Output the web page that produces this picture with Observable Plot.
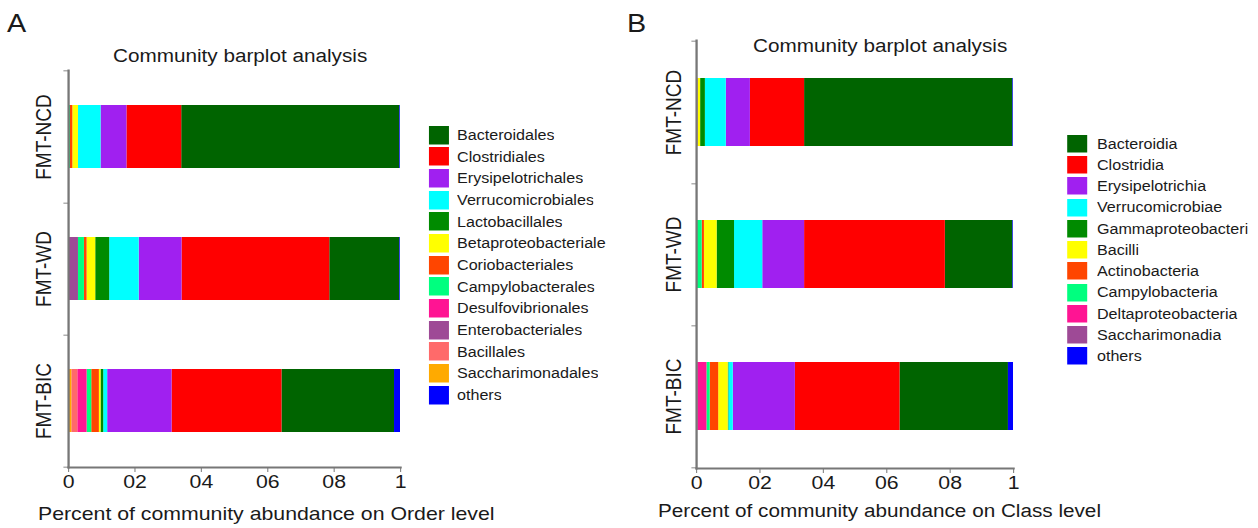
<!DOCTYPE html>
<html><head><meta charset="utf-8">
<script src="https://cdn.jsdelivr.net/npm/d3@7"></script>
<script src="https://cdn.jsdelivr.net/npm/@observablehq/plot@0.6"></script>
<style>
html,body{margin:0;padding:0;background:#fff;overflow:hidden;width:1258px;height:528px}
#root{position:absolute;left:0;top:0;width:1094px;height:528px;transform:scaleX(1.15);transform-origin:0 0;font-family:Arial,"Liberation Sans",sans-serif;color:#1a1a1a}
.abs{position:absolute;white-space:nowrap;line-height:normal}
.lgA-swatches,.lgB-swatches{margin:0;font-size:14px;font-family:Arial,"Liberation Sans",sans-serif;color:#1a1a1a}
.lgA-swatch{height:21.67px;padding-bottom:0 !important}
.lgB-swatch{height:21.25px;padding-bottom:0 !important}
.lgA-swatch > svg{margin-right:7px !important}
.lgB-swatch > svg{margin-right:8.7px !important}
</style></head><body><div id="root"></div>
<script>
// ---------- data ----------
const groups = ["FMT-NCD", "FMT-WD", "FMT-BIC"];
const xTicks = [0, 0.2, 0.4, 0.6, 0.8, 1];
const xTickLabels = ["0", "02", "04", "06", "08", "1"];

const ordersA = ["Bacteroidales", "Clostridiales", "Erysipelotrichales", "Verrucomicrobiales", "Lactobacillales",
  "Betaproteobacteriale", "Coriobacteriales", "Campylobacterales", "Desulfovibrionales", "Enterobacteriales",
  "Bacillales", "Saccharimonadales", "others"];
const colorsA = ["#006400", "#FF0000", "#A020F0", "#00FFFF", "#008B00", "#FFFF00", "#FF4500", "#00FF7F",
  "#FF1493", "#9E4A96", "#FF6A6A", "#FFAA00", "#0000FF"];
const ncdA = [0.657, 0.165, 0.078, 0.068, 0.000, 0.017, 0.007, 0.006, 0.000, 0.000, 0.000, 0.000, 0.002];
const wdA  = [0.211, 0.445, 0.129, 0.089, 0.042, 0.026, 0.008, 0.018, 0.000, 0.030, 0.000, 0.000, 0.002];
const bicA = [0.339, 0.331, 0.194, 0.012, 0.008, 0.005, 0.023, 0.014, 0.028, 0.000, 0.018, 0.010, 0.018];

const classesB = ["Bacteroidia", "Clostridia", "Erysipelotrichia", "Verrucomicrobiae", "Gammaproteobacteri",
  "Bacilli", "Actinobacteria", "Campylobacteria", "Deltaproteobacteria", "Saccharimonadia", "others"];
const colorsB = ["#006400", "#FF0000", "#A020F0", "#00FFFF", "#008B00", "#FFFF00", "#FF4500", "#00FF7F",
  "#FF1493", "#9E4A96", "#0000FF"];
const ncdB = [0.657, 0.171, 0.076, 0.066, 0.015, 0.008, 0.001, 0.000, 0.000, 0.004, 0.002];
const wdB  = [0.213, 0.444, 0.132, 0.089, 0.055, 0.040, 0.007, 0.018, 0.000, 0.000, 0.002];
const bicB = [0.342, 0.330, 0.196, 0.014, 0.002, 0.030, 0.027, 0.010, 0.029, 0.004, 0.016];

// ---------- layout helpers ----------
const S = 1.15; // horizontal stretch of the reference figure
const root = document.getElementById("root");
const FONT = "Arial, 'Liberation Sans', sans-serif";

function addText(txt, xRef, baseline, size) {
  const d = document.createElement("div");
  d.className = "abs";
  d.style.fontSize = size + "px";
  d.style.left = (xRef / S) + "px";
  d.style.top = (baseline - 0.905 * size) + "px";
  d.textContent = txt;
  root.appendChild(d);
}

function place(node, left, top) {
  const w = document.createElement("div");
  w.style.position = "absolute";
  w.style.left = left + "px";
  w.style.top = top + "px";
  w.appendChild(node);
  root.appendChild(w);
}

function panel({taxa, colors, values, width, mL, mR, mT, mB, yLabelDx}) {
  const data = [];
  groups.forEach((g, gi) => taxa.forEach((t, ti) => data.push({group: g, taxon: t, value: values[gi][ti]})));
  const order = taxa.slice(0, -1).reverse().concat(taxa.slice(-1));
  const step = (528 - mT - mB) / groups.length;
  const fmt = d => xTickLabels[xTicks.indexOf(d)];
  return Plot.plot({
    width, height: 528,
    marginLeft: mL, marginRight: mR, marginTop: mT, marginBottom: mB,
    style: {fontFamily: FONT, background: "transparent", overflow: "visible", maxWidth: "none"},
    x: {domain: [0, 1], axis: null},
    y: {domain: groups, paddingInner: 0.52, paddingOuter: 0.26, axis: null},
    color: {domain: taxa, range: colors},
    marks: [
      Plot.barX(data, Plot.stackX({x: "value", y: "group", fill: "taxon", order})),
      Plot.axisX({ticks: xTicks, tickFormat: fmt, tickSize: 5, tickPadding: 2, fontSize: 18.5,
        stroke: "#888", fill: "#1a1a1a", label: null}),
      Plot.axisY({ticks: groups, tickFormat: () => "", tickSize: 4, dy: step / 2, stroke: "#888", label: null}),
      Plot.axisY({ticks: groups.slice(0, 1), tickFormat: () => "", tickSize: 4, dy: -step / 2, stroke: "#888", label: null}),
      Plot.frame({anchor: "left", stroke: "#777", strokeWidth: 2}),
      Plot.frame({anchor: "bottom", stroke: "#777", strokeWidth: 2}),
      Plot.text(groups, {y: d => d, frameAnchor: "left", dx: yLabelDx, rotate: -90, fontSize: 19,
        fill: "#1a1a1a", textAnchor: "middle", lineAnchor: "middle"})
    ]
  });
}

function legend(taxa, colors, cls, sw, sh) {
  return Plot.legend({
    color: {type: "ordinal", domain: taxa, range: colors},
    legend: "swatches", columns: 1, swatchWidth: sw, swatchHeight: sh,
    className: cls, width: 200
  });
}

// ---------- panel A ----------
place(panel({taxa: ordersA, colors: colorsA, values: [ncdA, wdA, bicA],
  width: 370, mL: 68 / S, mR: 370 - 400 / S, mT: 70, mB: 61, yLabelDx: -21.7}), 0, 0);
place(legend(ordersA, colorsA, "lgA", 20 / S, 18.5), 429 / S, 135 - 21.67 / 2);

// ---------- panel B ----------
place(panel({taxa: classesB, colors: colorsB, values: [ncdB, wdB, bicB],
  width: 340, mL: 696 / S - 560, mR: 340 - (1013 / S - 560), mT: 40, mB: 60, yLabelDx: -20}), 560, 0);
place(legend(classesB, colorsB, "lgB", 20 / S, 17.5), 1067 / S, 143.5 - 21.25 / 2);

// ---------- texts ----------
addText("A", 7, 32, 25);
addText("B", 627, 32, 25);
addText("Community barplot analysis", 113, 62, 18);
addText("Community barplot analysis", 753, 52, 18);
addText("Percent of community abundance on Order level", 38, 520, 18.5);
addText("Percent of community abundance on Class level", 658, 517, 18);
</script>
</body></html>
